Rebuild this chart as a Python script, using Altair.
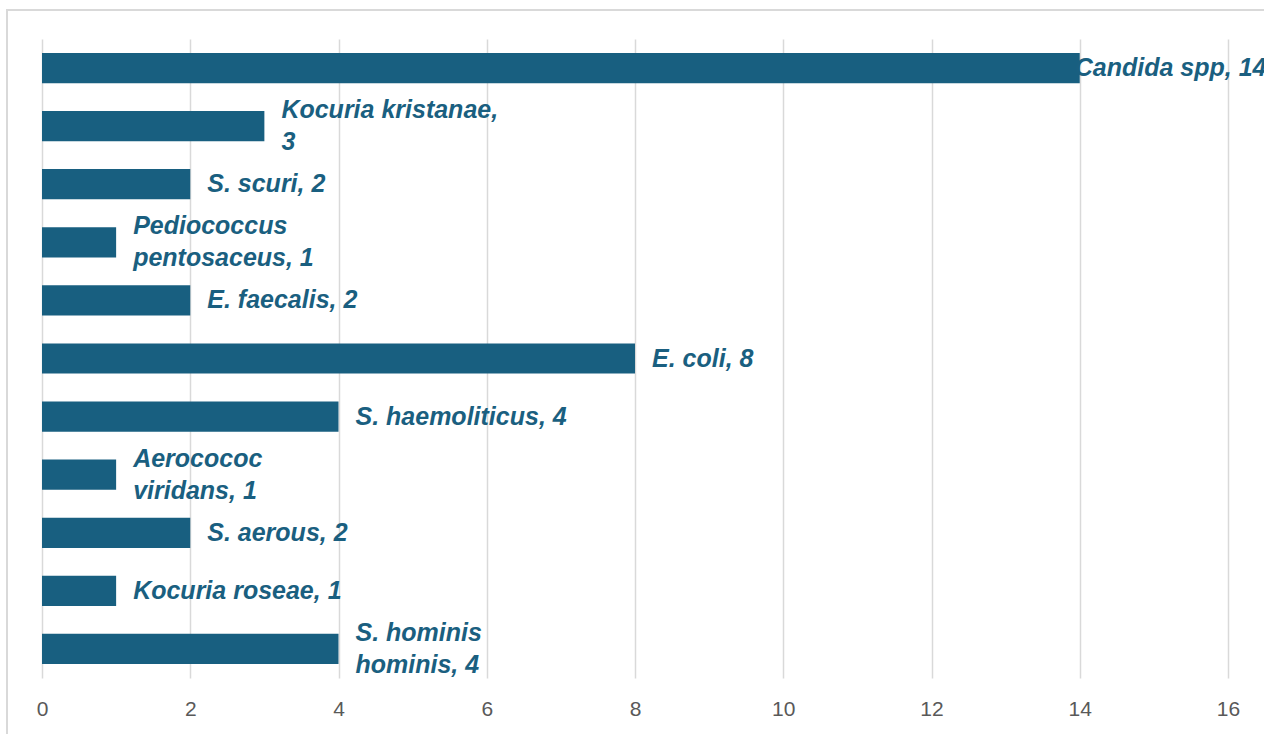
import altair as alt
import pandas as pd

categories = ["Candida spp", "Kocuria kristanae", "S. scuri", "Pediococcus pentosaceus",
              "E. faecalis", "E. coli", "S. haemoliticus", "Aerocococ viridans",
              "S. aerous", "Kocuria roseae", "S. hominis hominis"]
values = [14, 3, 2, 1, 2, 8, 4, 1, 2, 1, 4]
labels = ["Candida spp, 14", "Kocuria kristanae,\n3", "S. scuri, 2", "Pediococcus\npentosaceus, 1",
          "E. faecalis, 2", "E. coli, 8", "S. haemoliticus, 4", "Aerocococ\nviridans, 1",
          "S. aerous, 2", "Kocuria roseae, 1", "S. hominis\nhominis, 4"]
x_ticks = [0, 2, 4, 6, 8, 10, 12, 14, 16]

df = pd.DataFrame({"cat": categories, "val": values, "label": labels})
df["multi"] = df["label"].str.contains("\n")

W, H = 1186, 639
BAR = "#185f80"

y_enc = alt.Y("cat:N", sort=categories, axis=None,
              scale=alt.Scale(paddingInner=0.48, paddingOuter=0.24))
x_enc = alt.X("val:Q", scale=alt.Scale(domain=[0, 16], nice=False),
              axis=alt.Axis(values=x_ticks, format="d", title=None, domain=False, ticks=False,
                            grid=True, gridColor="#d9d9d9", gridWidth=1.5,
                            labelFont="Liberation Sans", labelFontSize=21, labelFlush=False,
                            labelColor="#595959", labelPadding=20))

border = alt.Chart(pd.DataFrame({"a": [0]})).mark_rect(
    filled=False, stroke="#d9d9d9", strokeWidth=2
).encode(x=alt.value(-35), x2=alt.value(1400), y=alt.value(-29), y2=alt.value(900))

bars = alt.Chart(df).mark_bar(color=BAR).encode(y=y_enc, x=x_enc)

text_props = dict(align="left", baseline="middle", lineBreak="\n", lineHeight=32,
                  font="Liberation Sans", fontSize=25, fontWeight="bold",
                  fontStyle="italic", color="#1a5f80")

text1 = alt.Chart(df).transform_filter("!datum.multi && datum.val < 14").mark_text(
    dx=17, **text_props).encode(y=y_enc, x=x_enc, text="label:N")
text2 = alt.Chart(df).transform_filter("datum.multi").mark_text(
    dx=17, dy=-16, **text_props).encode(y=y_enc, x=x_enc, text="label:N")
text3 = alt.Chart(df).transform_filter("datum.val >= 14").mark_text(
    dx=-5, **text_props).encode(y=y_enc, x=x_enc, text="label:N")

chart = alt.layer(bars, text1, text2, text3, border).properties(
    width=W, height=H,
    autosize=alt.AutoSizeParams(type="none"),
    padding={"left": 42, "top": 39, "right": 36, "bottom": 56}
).configure(background="white").configure_view(stroke=None).configure_axis(
    labelFontSize=21, labelFlush=False, labelFont="Liberation Sans", labelColor="#595959")

chart.save("out.html", embed_options={"renderer": "svg", "actions": False})
